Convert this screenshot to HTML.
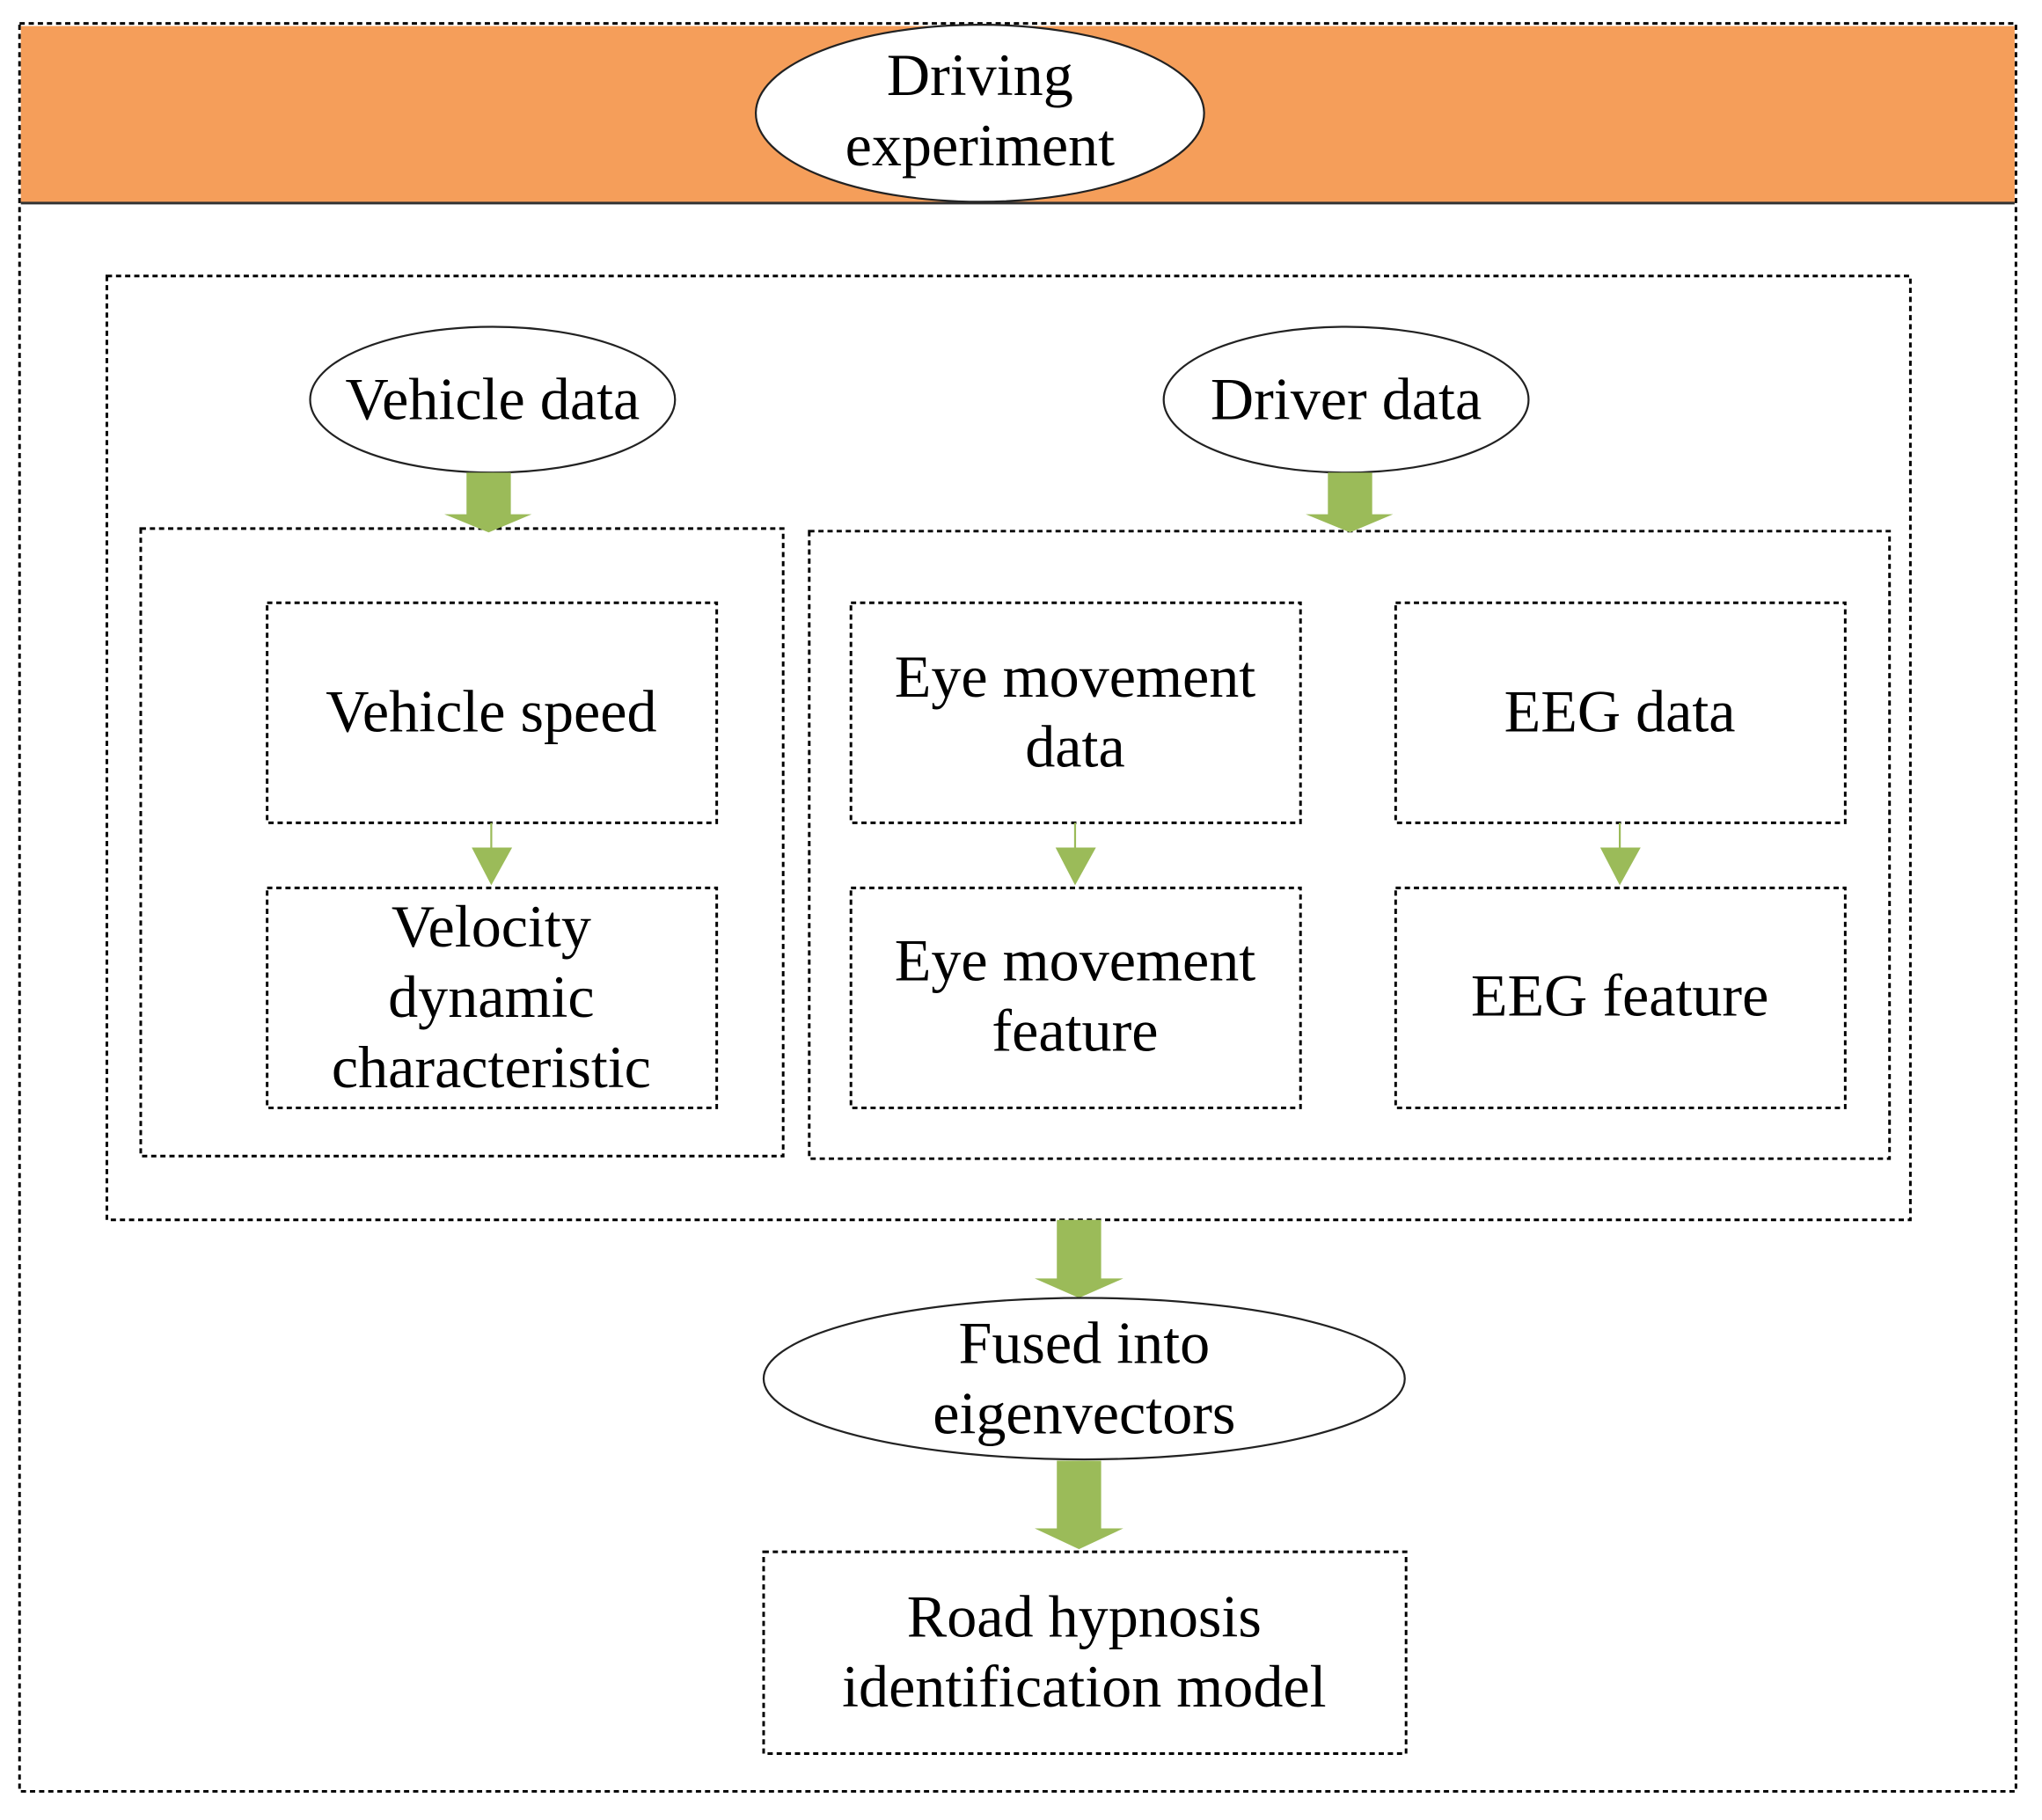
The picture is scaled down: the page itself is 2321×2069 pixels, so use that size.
<!DOCTYPE html>
<html><head><meta charset="utf-8"><style>
html,body{margin:0;padding:0;background:#fff;}
svg{display:block;}
text{font-family:"Liberation Serif",serif;font-size:46px;fill:#000;text-anchor:middle;}
</style></head><body>
<svg width="2321" height="2069" viewBox="0 0 1567 1398" preserveAspectRatio="none" xmlns="http://www.w3.org/2000/svg">
<g fill="none" stroke="#000" stroke-width="2" stroke-dasharray="4,3">
<rect x="15" y="18" width="1532" height="1358"/>
</g>
<rect x="16" y="20" width="1530" height="136" fill="#f59e5a"/>
<line x1="16" y1="156" x2="1546" y2="156" stroke="#333" stroke-width="2"/>
<ellipse cx="752" cy="87" rx="172" ry="68" fill="#fff" stroke="#222" stroke-width="1.5"/>
<text x="752" y="73">Driving</text>
<text x="752" y="127">experiment</text>
<g fill="none" stroke="#000" stroke-width="2" stroke-dasharray="4,3">
<rect x="82" y="212" width="1384" height="725"/>
<rect x="108" y="406" width="493" height="482"/>
<rect x="621" y="408" width="829" height="482"/>
<rect x="205" y="463" width="345" height="169"/>
<rect x="205" y="682" width="345" height="169"/>
<rect x="653" y="463" width="345" height="169"/>
<rect x="653" y="682" width="345" height="169"/>
<rect x="1071" y="463" width="345" height="169"/>
<rect x="1071" y="682" width="345" height="169"/>
<rect x="586" y="1192" width="493" height="155"/>
</g>
<ellipse cx="378" cy="307" rx="140" ry="56" fill="#fff" stroke="#222" stroke-width="1.5"/>
<text x="378" y="322">Vehicle data</text>
<ellipse cx="1033" cy="307" rx="140" ry="56" fill="#fff" stroke="#222" stroke-width="1.5"/>
<text x="1033" y="322">Driver data</text>
<g fill="#9bbb59">
<polygon points="358,363 392,363 392,395 408,395 375,409 341,395 358,395"/>
<polygon points="1019,363 1053,363 1053,395 1069,395 1036,409 1002,395 1019,395"/>
<polygon points="811,937 845,937 845,982 862,982 828,997 794,982 811,982"/>
<polygon points="811,1122 845,1122 845,1174 862,1174 828,1190 794,1174 811,1174"/>
<polygon points="362,651 393,651 377,680"/>
<polygon points="810,651 841,651 825,680"/>
<polygon points="1228,651 1259,651 1243,680"/>
</g>
<g stroke="#9bbb59" stroke-width="1.5">
<line x1="377" y1="632" x2="377" y2="652"/>
<line x1="825" y1="632" x2="825" y2="652"/>
<line x1="1243" y1="632" x2="1243" y2="652"/>
</g>
<text x="377" y="562">Vehicle speed</text>
<text x="377" y="727">Velocity</text>
<text x="377" y="781">dynamic</text>
<text x="377" y="835">characteristic</text>
<text x="825" y="535">Eye movement</text>
<text x="825" y="589">data</text>
<text x="1243" y="562">EEG data</text>
<text x="825" y="753">Eye movement</text>
<text x="825" y="807">feature</text>
<text x="1243" y="780">EEG feature</text>
<ellipse cx="832" cy="1059" rx="246" ry="62" fill="#fff" stroke="#222" stroke-width="1.5"/>
<text x="832" y="1047">Fused into</text>
<text x="832" y="1101">eigenvectors</text>
<text x="832" y="1257">Road hypnosis</text>
<text x="832" y="1311">identification model</text>
</svg>
</body></html>
